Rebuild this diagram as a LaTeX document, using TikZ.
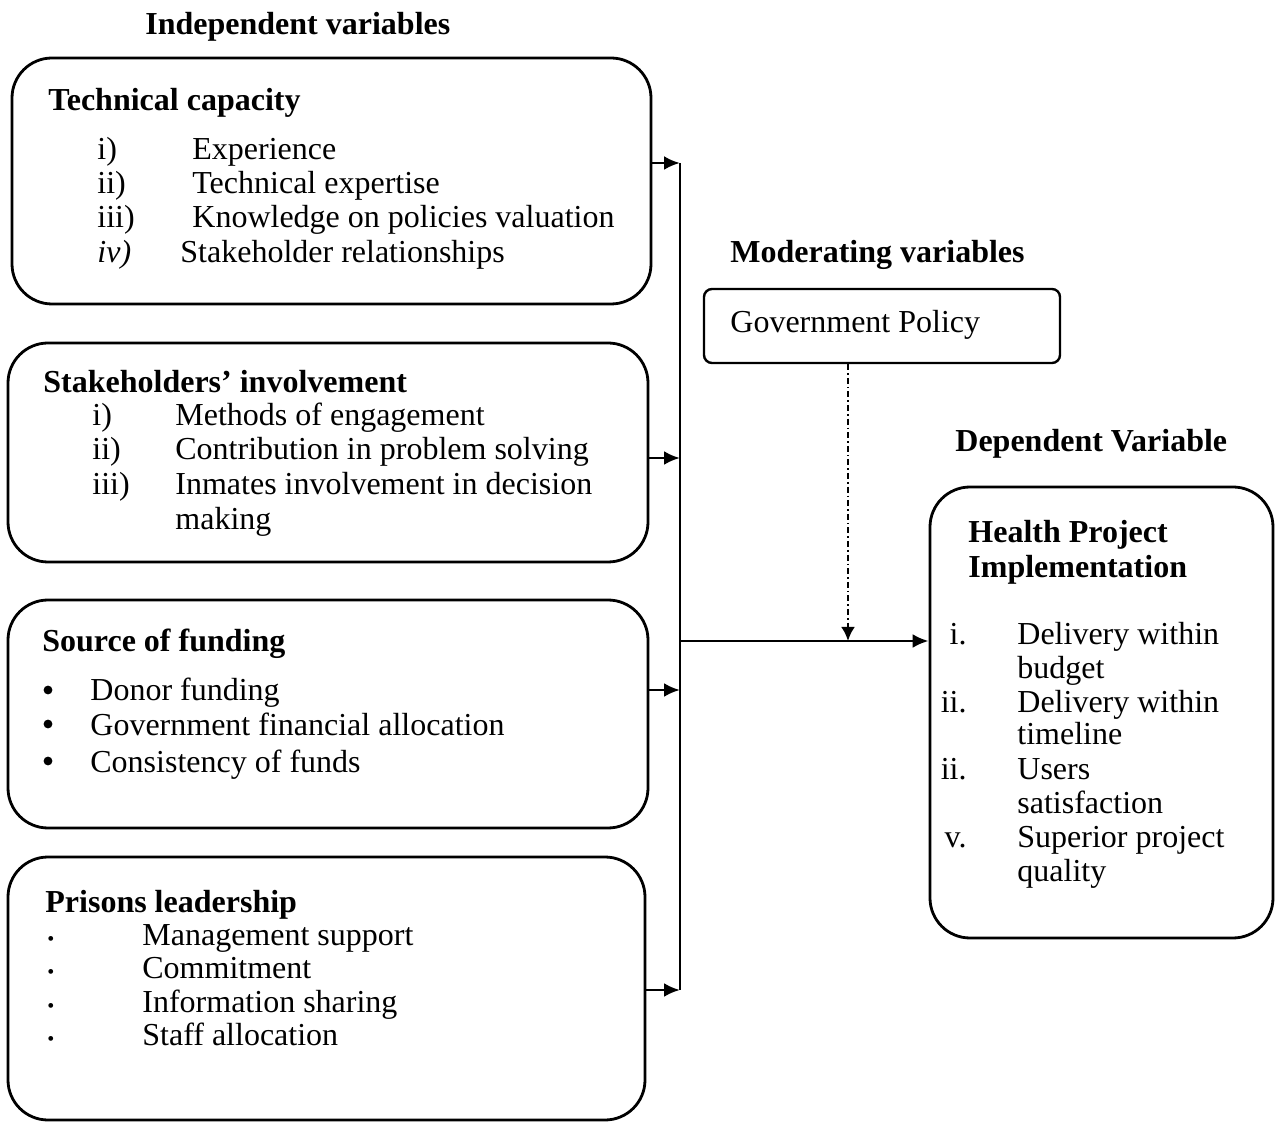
\documentclass[tikz,border=0pt]{standalone}
\usepackage{fontspec}
\setmainfont{Liberation Serif}
\usetikzlibrary{arrows.meta}
\tikzset{
  varbox/.style={draw, line width=1.4pt, rounded corners=20pt, inner sep=0pt},
  polbox/.style={draw, line width=1.2pt, rounded corners=4pt, inner sep=0pt},
  txt/.style={anchor=base west, inner sep=0pt, font=\fontsize{16}{19}\selectfont},
  hd/.style={txt, font=\fontsize{16}{19}\selectfont\bfseries},
  bigbul/.style={circle, fill, inner sep=0pt, minimum size=4.4pt},
  smallbul/.style={txt, font=\fontsize{10}{12}\selectfont},
  bus/.style={line width=1.4pt},
  feed/.style={bus, -{Latex[length=8pt,width=7pt]}},
  modarrow/.style={line width=1.4pt, dash pattern=on 3pt off 1.5pt on 0.8pt off 1.5pt,
    -{Latex[length=7pt,width=7pt]}}
}

\begin{document}
\begin{tikzpicture}[x=0.5pt, y=-0.5pt]
\useasboundingbox (0,0) rectangle (1275,1122);

% column headings
\node[hd] (indep) at (145,35) {Independent variables};
\node[hd] (moder) at (730,263) {Moderating variables};
\node[hd] (depen) at (955,452) {Dependent Variable};

% boxes
\node[varbox, minimum width=319.5pt, minimum height=123pt] (tc) at (331.5,181) {};
\node[varbox, minimum width=320pt, minimum height=109.5pt] (si) at (328,452.5) {};
\node[varbox, minimum width=320pt, minimum height=114pt] (sf) at (328,714) {};
\node[varbox, minimum width=318.5pt, minimum height=131.5pt] (pl) at (326.5,988.5) {};
\node[polbox, minimum width=178pt, minimum height=37pt] (gp) at (882,326) {};
\node[varbox, minimum width=171.5pt, minimum height=225.5pt] (hp) at (1101.5,712.5) {};

% technical capacity
\node[hd] (tch) at (48,111) {Technical capacity};
\foreach \lab/\txt [count=\i] in {i)/Experience, ii)/Technical expertise, iii)/Knowledge on policies valuation}{
  \node[txt] (tcl\i) at (97,126+34*\i) {\lab};
  \node[txt] (tct\i) at (192,126+34*\i) {\txt};
}
\node[txt] (tcl4) at (97,263) {\textit{iv)}};
\node[txt] (tct4) at (180,263) {Stakeholder relationships};

% stakeholders
\node[hd] (sih) at (43,393) {Stakeholders’ involvement};
\foreach \lab/\txt/\y [count=\i] in {i)/Methods of engagement/426, ii)/Contribution in problem solving/460, iii)/Inmates involvement in decision/495}{
  \node[txt] (sil\i) at (92,\y) {\lab};
  \node[txt] (sit\i) at (175,\y) {\txt};
}
\node[txt] (sit4) at (175,530) {making};

% funding
\node[hd] (sfh) at (42,652) {Source of funding};
\foreach \txt/\y [count=\i] in {Donor funding/701, Government financial allocation/735, Consistency of funds/772}{
  \node[bigbul] (sfb\i) at (48,\y-11) {};
  \node[txt] (sft\i) at (90,\y) {\txt};
}

% leadership
\node[hd] (plh) at (45,912) {Prisons leadership};
\foreach \txt/\y [count=\i] in {Management support/945, Commitment/978, Information sharing/1012, Staff allocation/1045}{
  \node[smallbul] (plb\i) at (47,\y) {•};
  \node[txt] (plt\i) at (142,\y) {\txt};
}

% moderating
\node[txt] (gpt) at (730,333) {Government Policy};

% dependent
\node[hd] (hph1) at (968,543) {Health Project};
\node[hd] (hph2) at (968,578) {Implementation};
\foreach \lab/\y [count=\i] in {i./645, ii./712, ii./779, v./847}
  \node[txt, anchor=base east] (hpl\i) at (967,\y) {\lab};
\foreach \txt/\y [count=\i] in {Delivery within/645, budget/679, Delivery within/712, timeline/745,
    Users/779, satisfaction/813, Superior project/847, quality/881}
  \node[txt] (hpt\i) at (1017,\y) {\txt};

% connectors
\coordinate (j1) at (680,163);
\coordinate (j2) at (680,458);
\coordinate (j3) at (680,690);
\coordinate (j4) at (680,990);
\coordinate (j0) at (680,641);
\coordinate (m) at (848,641);

\draw[bus] (j1) -- (j4);
\draw[feed] (tc.east |- j1) -- (j1);
\draw[feed] (si.east |- j2) -- (j2);
\draw[feed] (sf.east |- j3) -- (j3);
\draw[feed] (pl.east |- j4) -- (j4);
\draw[feed] (j0) -- (hp.west |- j0);
\draw[modarrow] (gp.south -| m) -- (m);
\end{tikzpicture}
\end{document}
